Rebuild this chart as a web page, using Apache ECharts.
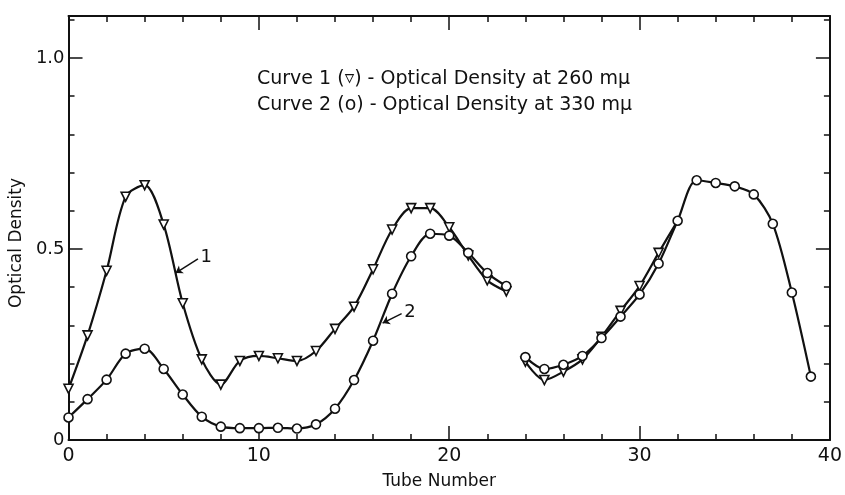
<!DOCTYPE html>
<html><head><meta charset="utf-8">
<script src="https://cdn.jsdelivr.net/npm/echarts@6/dist/echarts.min.js"></script>
<style>html,body{margin:0;padding:0;background:#fff}#c{width:845px;height:495px}</style>
</head><body><div id="c"></div>
<script>
// Tube numbers for the two measured runs (gap between 23 and 24)
const tubesA = [0,1,2,3,4,5,6,7,8,9,10,11,12,13,14,15,16,17,18,19,20,21,22,23];
const tubesB = [24,25,26,27,28,29,30,31,32,33,34,35,36,37,38,39];
// Curve 1 (triangles) - optical density at 260 mμ
const curve1A = [0.134,0.274,0.443,0.637,0.667,0.564,0.358,0.211,0.145,0.207,0.220,0.214,0.207,0.233,0.291,0.349,0.447,0.551,0.607,0.607,0.557,0.483,0.418,0.389];
const curve1B = [0.205,0.157,0.179,0.211,0.270,0.338,0.403,0.490];
// Curve 2 (circles) - optical density at 330 mμ
const curve2A = [0.059,0.107,0.158,0.226,0.239,0.186,0.119,0.061,0.035,0.031,0.031,0.032,0.030,0.041,0.082,0.157,0.260,0.383,0.481,0.540,0.535,0.490,0.437,0.403];
const curve2B = [0.217,0.186,0.197,0.220,0.267,0.323,0.381,0.462,0.574,0.680,0.673,0.664,0.643,0.566,0.386,0.166];
const xLabelValues = [0,10,20,30,40];
const yLabelValues = [0,0.5,1.0];
const yLabelTexts = ['0','0.5','1.0'];
const legendLines = ['Curve 1 (\u25BF) - Optical Density at 260 m\u03BC','Curve 2 (o) - Optical Density at 330 m\u03BC'];

const FONT = '"DejaVu Sans", sans-serif';
const INK = '#111';

function pairs(xs, ys){ return ys.map((v,i)=>[xs[i], v]); }
// curve 1 joins curve 2 after tube 31
const c1B = pairs(tubesB, curve1B);
c1B.push({value:[tubesB[curve1B.length], curve2B[curve1B.length]], symbol:'none'});

const lineCommon = {type:'line', smooth:0.3, xAxisIndex:0, yAxisIndex:0,
  lineStyle:{color:INK, width:2.2}, itemStyle:{color:'#fff', borderColor:INK, borderWidth:1.6},
  showSymbol:true, z:3};
const triStyle = Object.assign({}, lineCommon, {symbol:'triangle', symbolRotate:180, symbolSize:9});
const cirStyle = Object.assign({}, lineCommon, {symbol:'circle', symbolSize:9});

function xAx(pos, interval, len, main){
  return {type:'value', min:0, max:40, interval:interval, position:pos,
    axisLine:{show:main, onZero:false, lineStyle:{color:INK, width:2}},
    axisTick:{show:true, inside:true, length:len, lineStyle:{color:INK, width:1.5}},
    axisLabel:{show: main && pos==='bottom', margin:7, fontSize:19, color:INK, fontFamily:FONT,
      formatter: v => { const k = xLabelValues.indexOf(Math.round(v*1000)/1000); return k>=0 ? String(xLabelValues[k]) : ''; }},
    splitLine:{show:false}};
}
function yAx(pos, interval, len, main){
  return {type:'value', min:0, max:1.11, interval:interval, position:pos,
    axisLine:{show:main, onZero:false, lineStyle:{color:INK, width:2}},
    axisTick:{show:true, inside:true, length:len, lineStyle:{color:INK, width:1.5}},
    axisLabel:{show: main && pos==='left', margin:4, fontSize:18, color:INK, fontFamily:FONT, showMaxLabel:false,
      formatter: v => { const r = Math.round(v*1000)/1000; const k = yLabelValues.indexOf(r); return k>=0 ? yLabelTexts[k] : ''; }},
    splitLine:{show:false}};
}
const xb = xAx('bottom', 2, 6, true);
xb.name = 'Tube Number'; xb.nameLocation = 'middle'; xb.nameGap = 33;
xb.nameTextStyle = {fontSize:17, color:INK, fontFamily:FONT, padding:[0,20,0,0]};
const yl = yAx('left', 0.1, 6, true);
yl.name = 'Optical Density'; yl.nameLocation = 'middle'; yl.nameGap = 40;
yl.nameTextStyle = {fontSize:17, color:INK, fontFamily:FONT, padding:[0,30,0,0]};

const mlCommon = {silent:true, symbol:['none','arrow'], symbolSize:7,
  lineStyle:{type:'solid', color:INK, width:1.5},
  label:{show:true, position:'start', fontSize:18, color:INK, fontFamily:FONT, distance:3}};

const option = {
  animation:false,
  backgroundColor:'#fff',
  grid:{left:65, right:9, top:16, bottom:48, containLabel:false},
  xAxis:[xb, xAx('bottom',10,14,false), xAx('top',2,6,true), xAx('top',10,14,false)],
  yAxis:[yl, yAx('left',0.5,14,false), yAx('right',0.1,6,true), yAx('right',0.5,14,false)],
  graphic:legendLines.map((t,i)=>({type:'text', left:257, top:70+i*26, silent:true,
    style:{text:t, font:'19px '+FONT, fill:INK}})),
  series:[
    Object.assign({}, triStyle, {name:'c1a', data:pairs(tubesA, curve1A),
      markLine:Object.assign({}, mlCommon, {label:Object.assign({}, mlCommon.label, {formatter:'1'}),
        data:[[{coord:[6.8,0.474]},{coord:[5.62,0.437]}]]})}),
    Object.assign({}, triStyle, {name:'c1b', data:c1B}),
    Object.assign({}, cirStyle, {name:'c2a', data:pairs(tubesA, curve2A),
      markLine:Object.assign({}, mlCommon, {label:Object.assign({}, mlCommon.label, {formatter:'2'}),
        data:[[{coord:[17.5,0.331]},{coord:[16.5,0.306]}]]})}),
    Object.assign({}, cirStyle, {name:'c2b', data:pairs(tubesB, curve2B)})
  ]
};
const chart = echarts.init(document.getElementById('c'), null, {renderer:'canvas'});
chart.setOption(option);
</script></body></html>
